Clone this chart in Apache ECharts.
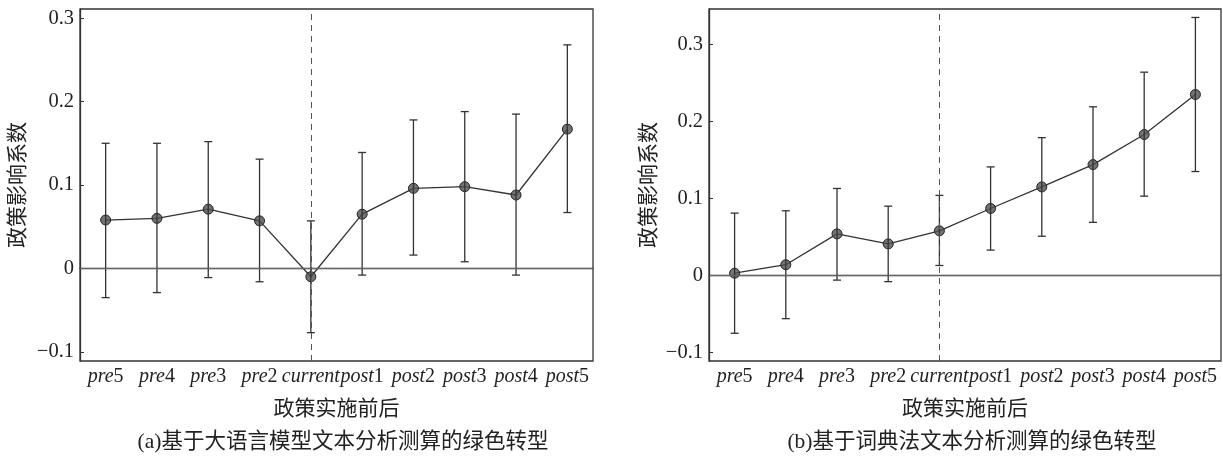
<!DOCTYPE html>
<html>
<head>
<meta charset="utf-8">
<script src="https://cdn.jsdelivr.net/npm/echarts@6/dist/echarts.min.js"></script>
<style>
  html, body { margin: 0; padding: 0; background: #fff; }
  #chart { width: 1223px; height: 458px; }
</style>
</head>
<body>
<div id="chart"></div>
<script>
// 事件窗口
const categories = ['pre5', 'pre4', 'pre3', 'pre2', 'current', 'post1', 'post2', 'post3', 'post4', 'post5'];

// (a) 大语言模型
const coefA = [0.058, 0.060, 0.071, 0.057, -0.010, 0.065, 0.096, 0.098, 0.088, 0.167];
const lowerA = [-0.035, -0.029, -0.011, -0.016, -0.077, -0.008, 0.016, 0.008, -0.008, 0.067];
const upperA = [0.150, 0.150, 0.152, 0.131, 0.057, 0.139, 0.178, 0.188, 0.185, 0.268];

// (b) 词典法
const coefB = [0.003, 0.014, 0.054, 0.041, 0.058, 0.087, 0.115, 0.144, 0.183, 0.235];
const lowerB = [-0.075, -0.056, -0.006, -0.008, 0.013, 0.033, 0.051, 0.069, 0.103, 0.135];
const upperB = [0.081, 0.084, 0.113, 0.090, 0.104, 0.141, 0.179, 0.219, 0.264, 0.335];

const yRangeA = [-0.111, 0.311];
const yRangeB = [-0.111, 0.346];

const xName = '政策实施前后';
const yName = '政策影响系数';
const captionA = '(a)基于大语言模型文本分析测算的绿色转型';
const captionB = '(b)基于词典法文本分析测算的绿色转型';

const serif = '"Liberation Serif", "Times New Roman", "Noto Sans CJK SC", serif';
const ink = '#222';

function fmtY(v) {
  if (Math.abs(v) < 1e-9) return '0';
  return (v < 0 ? '\u2212' : '') + Math.abs(v).toFixed(1);
}

// 字母斜体，数字正体
function fmtX(s) {
  const m = s.match(/^([a-z]+)(\d*)$/);
  return '{i|' + m[1] + '}' + (m[2] ? '{n|' + m[2] + '}' : '');
}

function makeX(idx) {
  return {
    type: 'category', gridIndex: idx, data: categories, boundaryGap: true,
    name: xName, nameLocation: 'middle', nameGap: 38,
    nameTextStyle: { fontFamily: serif, fontSize: 21, color: ink },
    axisLine: { lineStyle: { color: '#333', width: 1.3 } },
    axisTick: { inside: true, length: 5, alignWithLabel: true, lineStyle: { color: '#333' } },
    axisLabel: {
      interval: 0, margin: 6, formatter: fmtX,
      rich: {
        i: { fontFamily: serif, fontStyle: 'italic', fontSize: 20, color: ink },
        n: { fontFamily: serif, fontSize: 20, color: ink }
      }
    },
    splitLine: { show: false }
  };
}

function makeY(idx, range, gap) {
  return {
    type: 'value', gridIndex: idx, min: range[0], max: range[1],
    name: yName, nameLocation: 'middle', nameGap: gap, nameRotate: 90,
    nameTextStyle: { fontFamily: serif, fontSize: 21, color: ink },
    axisLine: { show: true, lineStyle: { color: '#333', width: 1.3 } },
    axisTick: { show: true, inside: true, length: 4, lineStyle: { color: '#333' } },
    axisLabel: { margin: 6, fontFamily: serif, fontSize: 20.5, color: ink, formatter: fmtY,
      showMinLabel: false, showMaxLabel: false },
    splitLine: { show: false }
  };
}

function errorBars(idx, lower, upper) {
  return {
    type: 'custom', xAxisIndex: idx, yAxisIndex: idx, z: 3, silent: true,
    data: categories.map((c, i) => [i, lower[i], upper[i]]),
    encode: { x: 0, y: [1, 2] },
    renderItem(params, api) {
      const lo = api.coord([api.value(0), api.value(1)]);
      const hi = api.coord([api.value(0), api.value(2)]);
      const w = 4;
      const style = { stroke: '#333', lineWidth: 1.3, fill: null };
      return {
        type: 'group',
        children: [
          { type: 'line', shape: { x1: lo[0], y1: lo[1], x2: hi[0], y2: hi[1] }, style },
          { type: 'line', shape: { x1: hi[0] - w, y1: hi[1], x2: hi[0] + w, y2: hi[1] }, style },
          { type: 'line', shape: { x1: lo[0] - w, y1: lo[1], x2: lo[0] + w, y2: lo[1] }, style }
        ]
      };
    }
  };
}

function coefLine(idx, values) {
  return {
    type: 'line', xAxisIndex: idx, yAxisIndex: idx, z: 2, data: values,
    symbol: 'circle', symbolSize: 10,
    lineStyle: { color: '#333', width: 1.3 },
    itemStyle: { color: 'rgba(80,80,80,0.8)', borderColor: '#222', borderWidth: 1 },
    markLine: {
      silent: true, symbol: 'none', label: { show: false },
      data: [
        { yAxis: 0, lineStyle: { color: '#666', width: 1, type: 'solid' } },
        { xAxis: 'current', lineStyle: { color: '#555', width: 1, type: [6, 5] } }
      ]
    }
  };
}

const chart = echarts.init(document.getElementById('chart'), null, { renderer: 'canvas' });
chart.setOption({
  animation: false,
  backgroundColor: '#fff',
  grid: [
    { left: 80, right: 630, top: 9, bottom: 97, show: true, borderColor: '#333', borderWidth: 1.3 },
    { left: 709, right: 2, top: 9, bottom: 97, show: true, borderColor: '#333', borderWidth: 1.3 }
  ],
  xAxis: [makeX(0), makeX(1)],
  yAxis: [makeY(0, yRangeA, 51), makeY(1, yRangeB, 49)],
  series: [
    errorBars(0, lowerA, upperA),
    coefLine(0, coefA),
    errorBars(1, lowerB, upperB),
    coefLine(1, coefB)
  ],
  graphic: [
    { type: 'text', x: 343, y: 442, style: { text: captionA, font: '21.5px ' + serif, fill: ink, textAlign: 'center', textVerticalAlign: 'middle' } },
    { type: 'text', x: 972, y: 442, style: { text: captionB, font: '21.5px ' + serif, fill: ink, textAlign: 'center', textVerticalAlign: 'middle' } }
  ]
});
</script>
</body>
</html>
